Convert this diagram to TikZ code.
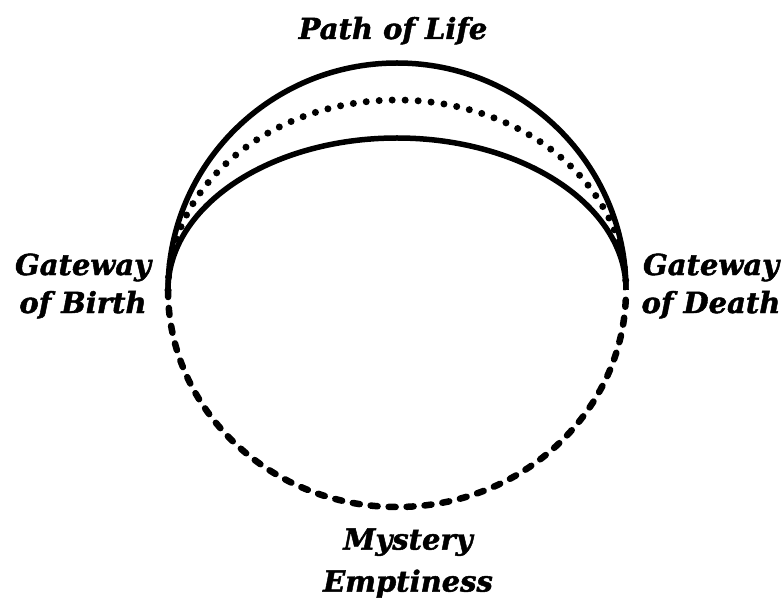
\documentclass[tikz,border=0pt]{standalone}
\usepackage{fontspec}
\setmainfont[BoldItalicFeatures={FakeBold=1.6}]{DejaVu Serif}
\begin{document}
\begin{tikzpicture}[x=1pt,y=1pt,
  lbl/.style={font=\fontsize{29}{38}\selectfont\bfseries\itshape, align=center, inner sep=0pt},
  solidarc/.style={line width=5.5pt},
  dotarc/.style={line width=7pt, line cap=round, dash pattern=on 0pt off 13pt},
  dasharc/.style={line width=6.5pt, line cap=round, dash pattern=on 7pt off 11pt}]
\useasboundingbox (0,0) rectangle (784,597);
\coordinate (birth) at (168,307);
\coordinate (death) at (626,307);
\draw[solidarc] (birth) arc[start angle=180, end angle=0, x radius=229, y radius=227];
\draw[dotarc] (birth) arc[start angle=180, end angle=0, x radius=229, y radius=190];
\draw[solidarc] (birth) arc[start angle=180, end angle=0, x radius=229, y radius=152];
\draw[dasharc] (birth) arc[start angle=180, end angle=360, x radius=229, y radius=217];
\node[lbl, anchor=base] (life) at (393,558) {Path of Life};
\node[lbl] (gb) at (83,311) {Gateway\\of Birth};
\node[lbl] (gd) at (711,311) {Gateway\\of Death};
\node[lbl, font=\fontsize{29}{42}\selectfont\bfseries\itshape] (me) at (408,34) {Mystery\\Emptiness};
\end{tikzpicture}
\end{document}
